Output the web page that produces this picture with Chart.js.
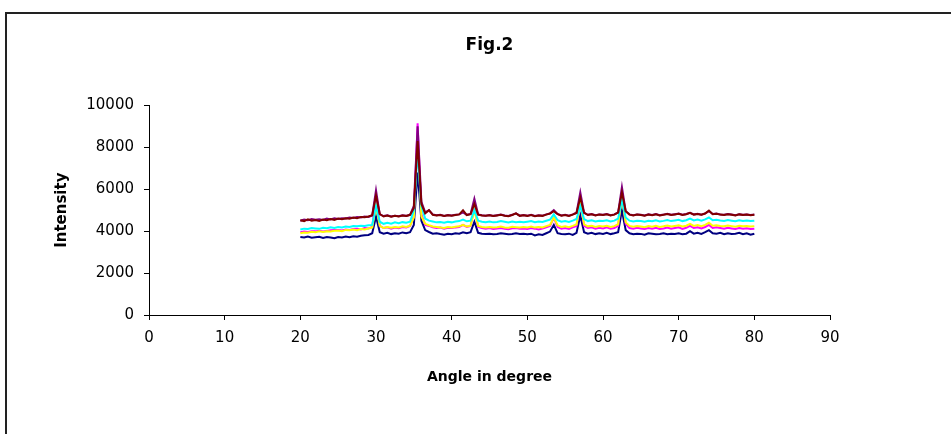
<!DOCTYPE html>
<html>
<head>
<meta charset="utf-8">
<script src="https://cdn.jsdelivr.net/npm/chart.js@4"></script>
<style>
  html, body { margin: 0; padding: 0; background: #fff; overflow: hidden; }
  #wrap { position: relative; width: 951px; height: 434px; }
  #frame { position: absolute; left: 5px; top: 12px; width: 1000px; height: 500px; border: 2px solid #222; box-sizing: border-box; }
  #xrd { position: absolute; left: 0; top: 0; }
</style>
</head>
<body>
<div id="wrap">
  <div id="frame"></div>
  <canvas id="xrd" width="951" height="434"></canvas>
</div>
<script>
// 2-theta angles (degree)
const angles = [
  20, 20.5, 21, 21.5, 22, 22.5, 23, 23.5, 24, 24.5,
  25, 25.5, 26, 26.5, 27, 27.5, 28, 28.5, 29, 29.5,
  30, 30.5, 31, 31.5, 32, 32.5, 33, 33.5, 34, 34.5,
  35, 35.5, 36, 36.5, 37, 37.5, 38, 38.5, 39, 39.5,
  40, 40.5, 41, 41.5, 42, 42.5, 43, 43.5, 44, 44.5,
  45, 45.5, 46, 46.5, 47, 47.5, 48, 48.5, 49, 49.5,
  50, 50.5, 51, 51.5, 52, 52.5, 53, 53.5, 54, 54.5,
  55, 55.5, 56, 56.5, 57, 57.5, 58, 58.5, 59, 59.5,
  60, 60.5, 61, 61.5, 62, 62.5, 63, 63.5, 64, 64.5,
  65, 65.5, 66, 66.5, 67, 67.5, 68, 68.5, 69, 69.5,
  70, 70.5, 71, 71.5, 72, 72.5, 73, 73.5, 74, 74.5,
  75, 75.5, 76, 76.5, 77, 77.5, 78, 78.5, 79, 79.5,
  80
];

const navy = [
  3720, 3700, 3740, 3690, 3710, 3730, 3680, 3720, 3700, 3660,
  3720, 3700, 3740, 3710, 3760, 3730, 3780, 3800, 3820, 3900,
  4700, 3950, 3880, 3920, 3860, 3900, 3880, 3940, 3900, 3950,
  4300, 6800, 4500, 4050, 3960, 3880, 3900, 3860, 3830, 3880,
  3850, 3900, 3880, 3950, 3900, 3950, 4450, 3920, 3880, 3860,
  3880, 3850, 3870, 3900, 3880, 3850, 3860, 3900, 3870, 3880,
  3850, 3880, 3800, 3850, 3820, 3900, 3980, 4300, 3900, 3860,
  3850, 3880, 3820, 3920, 4750, 3950, 3880, 3920, 3860, 3900,
  3870, 3920, 3860, 3900, 3950, 5000, 4050, 3900, 3850, 3880,
  3870, 3830, 3900, 3880, 3850, 3870, 3900, 3850, 3880, 3860,
  3900, 3850, 3880, 4000, 3880, 3920, 3870, 3950, 4050, 3900,
  3880, 3920, 3850, 3900, 3870, 3880, 3920, 3850, 3900, 3830,
  3880
];

const magenta = [
  3950, 3980, 3960, 4000, 3990, 4020, 3980, 4010, 4040, 4050,
  4060, 4030, 4080, 4060, 4100, 4120, 4080, 4150, 4130, 4200,
  5600, 4250, 4150, 4180, 4120, 4170, 4140, 4200, 4180, 4250,
  4700, 9150, 4800, 4300, 4250, 4180, 4150, 4170, 4120, 4160,
  4150, 4180, 4200, 4300, 4200, 4250, 5100, 4200, 4150, 4120,
  4150, 4100, 4130, 4150, 4120, 4090, 4140, 4150, 4110, 4130,
  4100, 4150, 4120, 4080, 4130, 4180, 4250, 4650, 4200, 4120,
  4150, 4110, 4180, 4250, 5500, 4250, 4150, 4180, 4120, 4160,
  4130, 4180, 4120, 4150, 4250, 5800, 4350, 4150, 4120, 4160,
  4130, 4100, 4150, 4120, 4160, 4100, 4130, 4170, 4120, 4150,
  4180, 4110, 4160, 4250, 4150, 4180, 4130, 4200, 4300, 4150,
  4180, 4150, 4120, 4160, 4130, 4100, 4150, 4120, 4140, 4100,
  4120
];

const yellow = [
  3900, 3940, 3920, 3970, 3950, 3990, 3960, 4000, 3980, 4020,
  4030, 4000, 4060, 4040, 4080, 4050, 4100, 4080, 4130, 4180,
  5200, 4250, 4150, 4200, 4160, 4200, 4170, 4230, 4200, 4260,
  4650, 8500, 4700, 4350, 4280, 4220, 4200, 4180, 4150, 4200,
  4180, 4210, 4230, 4300, 4220, 4260, 5000, 4250, 4200, 4180,
  4200, 4170, 4190, 4220, 4180, 4160, 4210, 4190, 4170, 4200,
  4180, 4220, 4170, 4200, 4180, 4240, 4300, 4650, 4280, 4200,
  4230, 4190, 4250, 4320, 5350, 4320, 4230, 4260, 4200, 4240,
  4220, 4260, 4200, 4240, 4330, 5600, 4420, 4250, 4210, 4240,
  4220, 4190, 4240, 4210, 4260, 4200, 4230, 4270, 4220, 4250,
  4280, 4220, 4260, 4350, 4250, 4290, 4240, 4300, 4400, 4260,
  4280, 4250, 4230, 4270, 4240, 4210, 4260, 4230, 4250, 4220,
  4240
];

const cyan = [
  4080, 4120, 4100, 4150, 4130, 4110, 4160, 4140, 4180, 4150,
  4200, 4180, 4220, 4200, 4250, 4230, 4260, 4250, 4280, 4300,
  5200, 4450, 4350, 4400, 4360, 4420, 4380, 4430, 4400, 4450,
  5000, 7800, 5200, 4600, 4500, 4460, 4420, 4440, 4400, 4450,
  4420, 4460, 4480, 4550, 4470, 4500, 5000, 4500, 4450, 4430,
  4460, 4420, 4440, 4480, 4450, 4410, 4460, 4430, 4450, 4420,
  4450, 4480, 4430, 4460, 4440, 4500, 4550, 4800, 4520, 4450,
  4480, 4440, 4500, 4580, 5200, 4580, 4480, 4520, 4460, 4500,
  4480, 4520, 4460, 4500, 4600, 5500, 4650, 4500, 4460, 4500,
  4480, 4450, 4500, 4470, 4520, 4460, 4490, 4530, 4480, 4510,
  4540, 4480, 4520, 4600, 4510, 4550, 4500, 4560, 4650, 4520,
  4540, 4510, 4490, 4530, 4500, 4470, 4520, 4490, 4510, 4480,
  4500
];

const purple = [
  4500, 4550, 4520, 4580, 4540, 4570, 4530, 4600, 4560, 4620,
  4580, 4620, 4600, 4650, 4630, 4680, 4650, 4700, 4680, 4750,
  5950, 4800, 4720, 4760, 4700, 4740, 4710, 4760, 4730, 4780,
  5200, 9000, 5400, 4900, 5000, 4800, 4760, 4780, 4730, 4770,
  4750, 4780, 4800, 4900, 4780, 4820, 5550, 4800, 4760, 4740,
  4770, 4730, 4760, 4790, 4750, 4720, 4780, 4850, 4740, 4770,
  4740, 4780, 4720, 4760, 4740, 4800, 4850, 5000, 4820, 4750,
  4780, 4740, 4800, 4880, 5850, 4880, 4780, 4820, 4760, 4800,
  4780, 4820, 4760, 4800, 4900, 6100, 4950, 4800, 4760, 4800,
  4780, 4750, 4800, 4770, 4820, 4760, 4790, 4830, 4780, 4810,
  4840, 4780, 4820, 4880, 4800, 4830, 4790, 4850, 4950, 4820,
  4840, 4800, 4780, 4820, 4790, 4760, 4810, 4780, 4800, 4770,
  4790
];

const maroon = [
  4520, 4480, 4560, 4500, 4530, 4490, 4550, 4520, 4580, 4540,
  4600, 4570, 4620, 4590, 4650, 4620, 4680, 4660, 4700, 4760,
  5700, 4820, 4700, 4750, 4690, 4730, 4700, 4750, 4720, 4780,
  5100, 8300, 5300, 4850, 5000, 4780, 4750, 4770, 4720, 4760,
  4740, 4770, 4800, 5000, 4770, 4810, 5300, 4790, 4750, 4730,
  4760, 4720, 4750, 4780, 4740, 4710, 4770, 4850, 4730, 4760,
  4730, 4770, 4710, 4750, 4730, 4790, 4840, 4950, 4810, 4740,
  4770, 4730, 4790, 4870, 5600, 4870, 4770, 4810, 4750, 4790,
  4770, 4810, 4750, 4790, 4890, 5850, 4950, 4790, 4750, 4790,
  4770, 4740, 4790, 4760, 4810, 4750, 4780, 4820, 4770, 4800,
  4830, 4770, 4810, 4870, 4790, 4820, 4780, 4840, 4980, 4810,
  4830, 4790, 4770, 4810, 4780, 4750, 4800, 4770, 4790, 4760,
  4780
];

const series = [
  { values: navy, color: '#000080' },
  { values: magenta, color: '#FF00FF' },
  { values: yellow, color: '#FFFF00' },
  { values: cyan, color: '#00FFFF' },
  { values: purple, color: '#800080' },
  { values: maroon, color: '#800000' }
];

document.addEventListener('DOMContentLoaded', function() {
    const ctx = document.getElementById('xrd').getContext('2d');

    const datasets = series.map((s, i) => ({
        data: s.values.map((v, k) => ({ x: angles[k], y: v })),
        borderColor: s.color,
        backgroundColor: s.color,
        borderWidth: 2,
        pointRadius: 0,
        tension: 0,
        fill: false,
        order: series.length - i   // last series drawn on top
    }));

    new Chart(ctx, {
        type: 'line',
        data: { datasets: datasets },
        options: {
            responsive: false,
            animation: false,
            layout: {
                padding: { left: 0, right: 121, top: 0, bottom: 39 }
            },
            plugins: {
                legend: { display: false },
                tooltip: { enabled: false },
                title: {
                    display: true,
                    text: 'Fig.2',
                    fullSize: false,
                    color: '#000',
                    font: { family: 'DejaVu Sans', size: 17, weight: 'bold' },
                    padding: { top: 35, bottom: 50 }
                }
            },
            scales: {
                x: {
                    type: 'linear',
                    min: 0,
                    max: 90,
                    border: { display: true, color: '#000', width: 1 },
                    grid: {
                        drawOnChartArea: false,
                        drawTicks: true,
                        tickLength: 5,
                        color: '#000'
                    },
                    ticks: {
                        stepSize: 10,
                        padding: 9,
                        maxRotation: 0,
                        color: '#000',
                        font: { family: 'DejaVu Sans', size: 15 }
                    },
                    title: {
                        display: true,
                        text: 'Angle in degree',
                        color: '#000',
                        font: { family: 'DejaVu Sans', size: 14, weight: 'bold' },
                        padding: { top: 0, bottom: 9 }
                    },
                    afterFit: function(scale) { scale.height = 80; }
                },
                y: {
                    min: 0,
                    max: 10000,
                    border: { display: true, color: '#000', width: 1 },
                    grid: {
                        drawOnChartArea: false,
                        drawTicks: true,
                        tickLength: 5,
                        color: '#000'
                    },
                    ticks: {
                        stepSize: 2000,
                        padding: 10,
                        color: '#000',
                        font: { family: 'DejaVu Sans', size: 15 },
                        callback: function(value) { return String(value); }
                    },
                    title: {
                        display: true,
                        text: 'Intensity',
                        color: '#000',
                        font: { family: 'DejaVu Sans', size: 15, weight: 'bold' },
                        padding: { top: 53, bottom: 0 }
                    },
                    afterFit: function(scale) { scale.width = 149; }
                }
            }
        }
    });
});
</script>
</body>
</html>
